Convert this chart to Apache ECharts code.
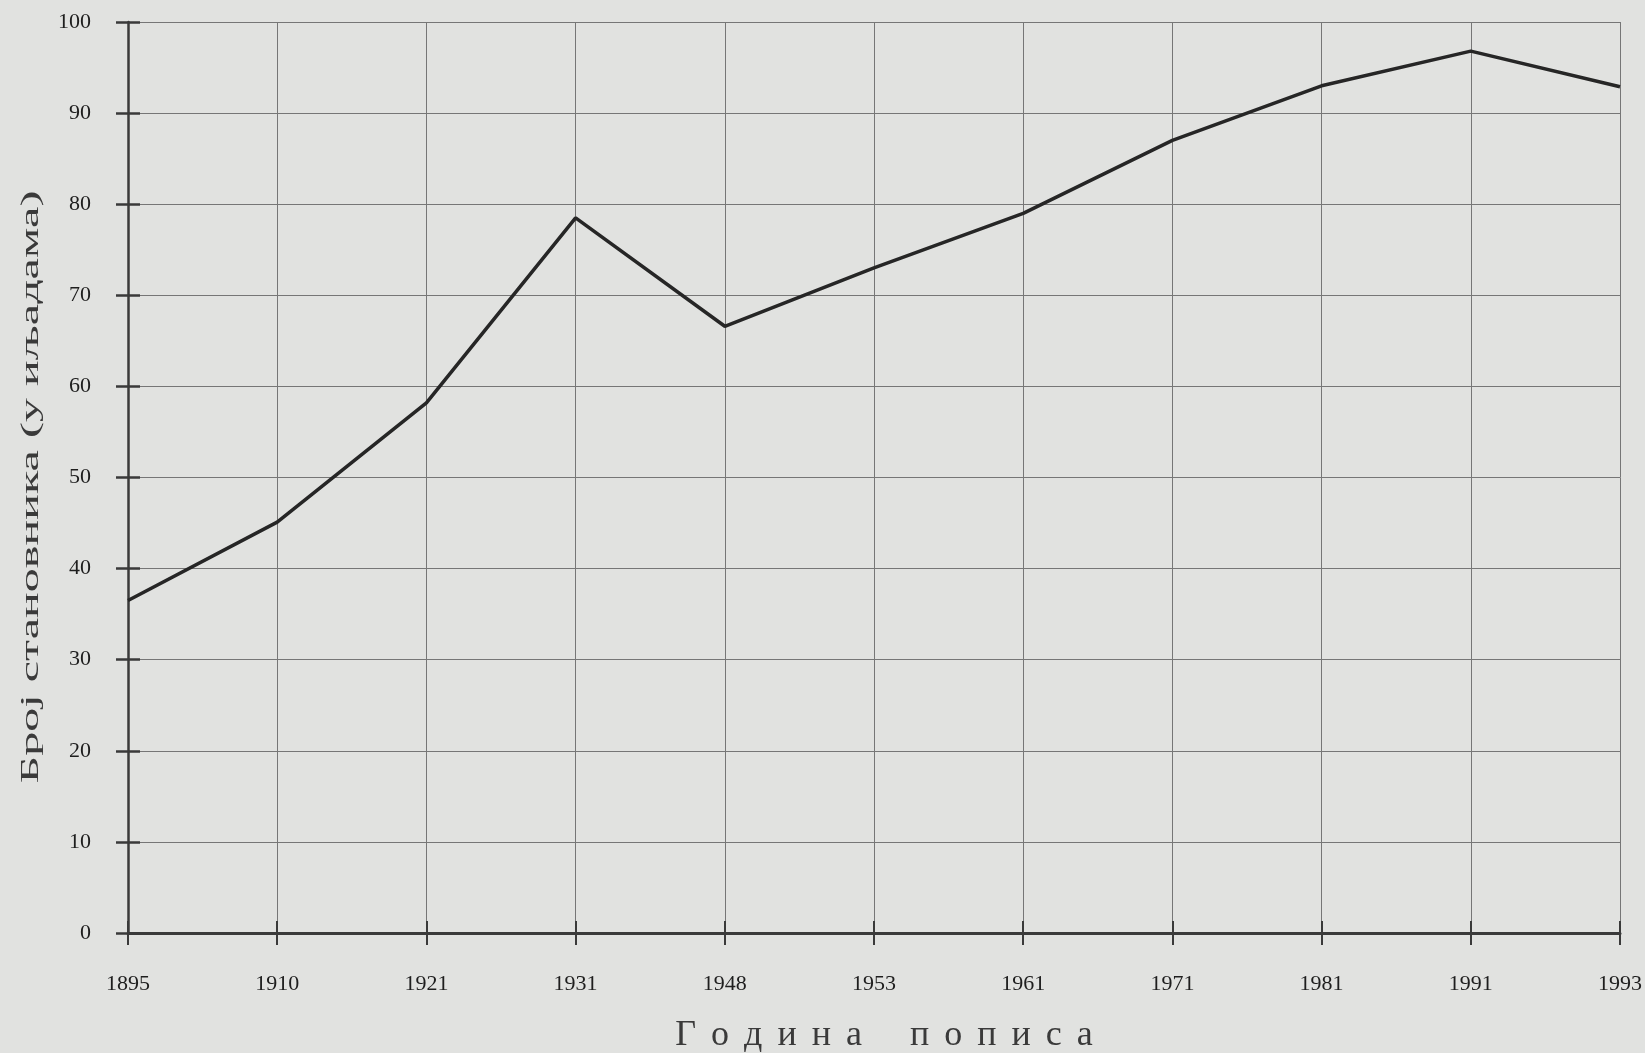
<!DOCTYPE html>
<html>
<head>
<meta charset="utf-8">
<script src="https://cdn.jsdelivr.net/npm/echarts@6/dist/echarts.min.js"></script>
<style>
html,body{margin:0;padding:0;background:#e1e2e0;}
#chart{width:1645px;height:1053px;}
</style>
</head>
<body>
<div id="chart"></div>
<script>
const years = ['1895','1910','1921','1931','1948','1953','1961','1971','1981','1991','1993'];
const population = [36.5, 45.1, 58.2, 78.5, 66.6, 73.0, 79.0, 87.0, 93.0, 96.8, 92.9];
const yMin = 0, yMax = 100, yStep = 10;
const G = '\u2004\u200A';
const xTitle = ['Г','о','д','и','н','а'].join(G) + '\u2002\u2002\u2004' + ['п','о','п','и','с','а'].join(G);
const yTitle = 'Број становника (у иљадама)';

const FONT = '"Liberation Serif", "Times New Roman", serif';
const chart = echarts.init(document.getElementById('chart'));

const tickLbl = {fontFamily: FONT, fontSize: 22, color: '#1e1e1e'};
chart.setOption({
  backgroundColor: '#e1e2e0',
  animation: false,
  grid: {left: 128, right: 23, top: 22, bottom: 120, containLabel: false},
  xAxis: [{
    type: 'category', data: years, boundaryGap: false, position: 'bottom',
    axisLine: {lineStyle: {color: '#3a3a3a', width: 3}},
    axisTick: {show: true, inside: false, length: 12, lineStyle: {color: '#3a3a3a', width: 2}},
    axisLabel: Object.assign({margin: 40}, tickLbl),
    splitLine: {show: true, lineStyle: {color: '#767676', width: 1}}
  }, {
    type: 'category', data: years, boundaryGap: false, position: 'bottom',
    axisLine: {show: false},
    axisTick: {show: true, inside: true, length: 12, lineStyle: {color: '#3a3a3a', width: 2}},
    axisLabel: {show: false}, splitLine: {show: false}
  }],
  yAxis: [{
    type: 'value', min: yMin, max: yMax, interval: yStep, position: 'left',
    axisLine: {show: true, lineStyle: {color: '#3a3a3a', width: 2.5}},
    axisTick: {show: true, inside: false, length: 12, lineStyle: {color: '#3a3a3a', width: 2.5}},
    axisLabel: Object.assign({margin: 37}, tickLbl),
    splitLine: {show: true, lineStyle: {color: '#767676', width: 1}}
  }, {
    type: 'value', min: yMin, max: yMax, interval: yStep, position: 'left',
    axisLine: {show: false},
    axisTick: {show: true, inside: true, length: 12, lineStyle: {color: '#3a3a3a', width: 2.5}},
    axisLabel: {show: false}, splitLine: {show: false}
  }],
  series: [{
    type: 'line', data: population, xAxisIndex: 0, yAxisIndex: 0,
    symbol: 'none', smooth: false,
    lineStyle: {color: '#262626', width: 3.5}
  }],
  graphic: [{
    type: 'text', x: 884, y: 1036,
    style: {text: xTitle, fontFamily: FONT, fontSize: 36, fill: '#3a3a3a', align: 'center', verticalAlign: 'middle'}
  }, {
    type: 'text', x: 31, y: 487, rotation: Math.PI / 2, scaleX: 1.85,
    style: {text: yTitle, fontFamily: FONT, fontSize: 26, fill: '#3a3a3a', align: 'center', verticalAlign: 'middle'}
  }]
});
</script>
</body>
</html>
